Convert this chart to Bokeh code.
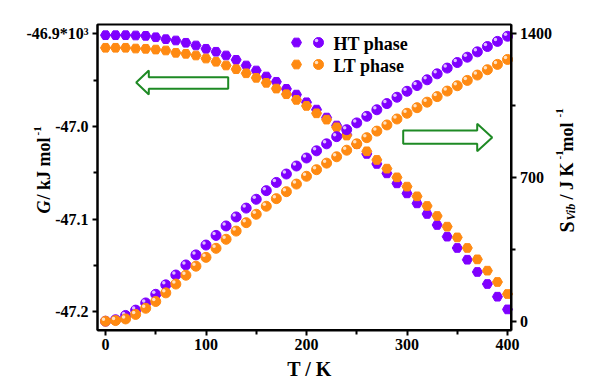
import math
from bokeh.plotting import figure
from bokeh.models import Range1d, LinearAxis, FixedTicker, Label, BoxAnnotation
from bokeh.embed import file_html
from bokeh.resources import INLINE

# ---------------- data ----------------
T = list(range(0, 401, 10))
G_HT = [-46.9015, -46.9015, -46.9015, -46.9018, -46.9022, -46.9037, -46.9058, -46.9072, -46.9097, -46.9126,
        -46.9162, -46.9194, -46.9234, -46.9281, -46.9342, -46.9396, -46.9461, -46.9518, -46.9594, -46.9656,
        -46.9739, -46.9818, -46.9904, -46.9990, -47.0088, -47.0190, -47.0296, -47.0404, -47.0506, -47.0614,
        -47.0722, -47.0830, -47.0944, -47.1063, -47.1189, -47.1311, -47.1438, -47.1570, -47.1700, -47.1837,
        -47.1974]
G_LT = [-46.9151, -46.9151, -46.9151, -46.9159, -46.9162, -46.9170, -46.9180, -46.9205, -46.9216, -46.9234,
        -46.9267, -46.9302, -46.9342, -46.9382, -46.9426, -46.9475, -46.9529, -46.9591, -46.9652, -46.9713,
        -46.9778, -46.9858, -46.9926, -47.0009, -47.0098, -47.0188, -47.0268, -47.0361, -47.0455, -47.0549,
        -47.0649, -47.0754, -47.0858, -47.0966, -47.1081, -47.1197, -47.1311, -47.1434, -47.1556, -47.1678,
        -47.1808]
S_HT = [0, 7, 28, 54, 89, 131, 177, 225, 274, 323, 371, 418, 464, 508, 551, 594, 636, 676, 717, 756,
        795, 830, 864, 899, 933, 966, 998, 1030, 1060, 1091, 1120, 1148, 1176, 1205, 1233, 1260, 1286,
        1312, 1338, 1363, 1388]
S_LT = [0, 3, 11, 33, 63, 96, 138, 181, 224, 268, 311, 355, 399, 439, 480, 521, 560, 597, 631, 668,
        706, 738, 770, 801, 833, 864, 894, 926, 956, 985, 1013, 1040, 1067, 1094, 1121, 1147, 1173,
        1199, 1225, 1251, 1275]

x_ticks = [0, 100, 200, 300, 400]
x_minor = [50, 150, 250, 350]
g_ticks = [-47.2, -47.1, -47.0, -46.9]
g_minor = [-47.15, -47.05, -46.95]
g_labels = ["-47.2", "-47.1", "-47.0", "-46.9*10\u00b3"]
s_ticks = [0, 700, 1400]
s_minor = [350, 1050]
series_names = ["HT phase", "LT phase"]

# ---------------- geometry (canvas px <-> data) ----------------
W, H = 600, 386
PURPLE = "#7F00FF"
ORANGE = "#FF8A12"
GREEN = "#1E8A24"
FONT = "Liberation Serif"

def tx(px):   # canvas x -> T
    return (px - 105.0) / 1.005

def gy(py):   # canvas y -> G
    return -46.9 - (py - 33.3) / 926.7

def sy(py):   # canvas y -> S
    return (320.7 - py) / 0.205286

BOX_L, BOX_R, BOX_T, BOX_B = 97, 510.5, 24, 329.5

p = figure(width=W, height=H, output_backend="svg", toolbar_location=None,
           x_range=Range1d(tx(0), tx(W)), y_range=Range1d(gy(H), gy(0)),
           x_axis_location=None, y_axis_location=None,
           min_border_left=0, min_border_right=0, min_border_top=0, min_border_bottom=0)
p.extra_y_ranges = {"S": Range1d(sy(H), sy(0))}
p.xgrid.visible = False
p.ygrid.visible = False
p.outline_line_color = None
p.background_fill_color = "white"
p.border_fill_color = "white"

bottom = LinearAxis(ticker=FixedTicker(ticks=x_ticks, minor_ticks=x_minor),
                    fixed_location=gy(BOX_B), bounds=(tx(BOX_L), tx(BOX_R)))
left = LinearAxis(ticker=FixedTicker(ticks=g_ticks, minor_ticks=g_minor),
                  fixed_location=tx(BOX_L), bounds=(gy(BOX_B), gy(BOX_T)))
left.major_label_overrides = {v: s for v, s in zip(g_ticks, g_labels)}
right = LinearAxis(y_range_name="S", ticker=FixedTicker(ticks=s_ticks, minor_ticks=s_minor),
                   fixed_location=tx(BOX_R), bounds=(sy(BOX_B), sy(BOX_T)))
p.add_layout(bottom, "below")
p.add_layout(left, "left")
p.add_layout(right, "right")

for ax in [bottom, left, right]:
    ax.axis_line_width = 2
    ax.major_tick_line_width = 2
    ax.minor_tick_line_width = 2
    ax.major_tick_out = 5
    ax.major_tick_in = 0
    ax.minor_tick_out = 4
    ax.minor_tick_in = 0
    ax.major_label_text_font = FONT
    ax.major_label_text_font_style = "bold"
    ax.major_label_text_font_size = "16px"
    ax.major_label_text_color = "black"
    ax.major_label_standoff = 4

p.add_layout(BoxAnnotation(left=tx(BOX_L), right=tx(BOX_R), top=gy(BOX_T), bottom=gy(BOX_B),
                           fill_alpha=0, line_color="black", line_width=2, line_alpha=1))

# ---------------- data marks ----------------
p.scatter(T, G_HT, marker="hex", size=10, fill_color=PURPLE, line_color=PURPLE)
p.scatter(T, G_LT, marker="hex", size=10, fill_color=ORANGE, line_color=ORANGE)

dxh = -2.0 / 1.005
dyh = 2.0 / 0.205286
for S, c in [(S_HT, PURPLE), (S_LT, ORANGE)]:
    p.scatter(T, S, marker="circle", size=10, fill_color=c, line_color=c, y_range_name="S")
    p.scatter([t + dxh for t in T], [s + dyh for s in S], marker="circle", size=3.5,
              fill_color="white", fill_alpha=0.75, line_color=None, y_range_name="S")

# ---------------- arrows ----------------
la = [(135.7, 82), (148.3, 70), (148.3, 76.7), (227.7, 76.7), (227.7, 88.3), (148.3, 88.3), (148.3, 94)]
ra = [(491.7, 137), (476.7, 123.3), (476.7, 130), (402.7, 130), (402.7, 143.3), (476.7, 143.3), (476.7, 150.7)]
for arr in (la, ra):
    p.patch([tx(a) for a, b in arr], [gy(b) for a, b in arr], fill_color="white", fill_alpha=1.0,
            line_color=GREEN, line_width=2)

# ---------------- legend ----------------
for (name, c, py) in [(series_names[0], PURPLE, 42), (series_names[1], ORANGE, 64)]:
    p.scatter([tx(296)], [gy(py)], marker="hex", size=10, fill_color=c, line_color=c)
    p.scatter([tx(318)], [gy(py)], marker="circle", size=10, fill_color=c, line_color=c)
    p.scatter([tx(316)], [gy(py - 2)], marker="circle", size=3.5, fill_color="white",
              fill_alpha=0.75, line_color=None)
    p.add_layout(Label(x=tx(333), y=gy(py + 1), text=name, text_font=FONT, text_font_style="bold",
                       text_font_size="18px", text_color="black",
                       text_baseline="alphabetic", text_align="left"))

# ---------------- axis titles ----------------
def lab(text, px, py, size, style="bold", angle=0.0, align="left"):
    p.add_layout(Label(x=tx(px), y=gy(py), text=text, text_font=FONT, text_font_style=style,
                       text_font_size=size, text_color="black", angle=angle,
                       text_baseline="alphabetic", text_align=align))

lab("T / K", 309, 368, "20px", align="center")
up = math.pi / 2
lab("G", 43, 213, "18px", style="bold italic", angle=up)
lab(" / kJ mol", 43, 199, "18px", angle=up)
lab("-1", 37, 135, "11px", angle=up)

lab("S", 566, 232, "20px", angle=up)
lab("Vib", 570, 220, "12px", style="bold italic", angle=up)
lab(" / J K", 566, 199, "18px", angle=up)
lab("-1", 559, 159, "11px", angle=up)
lab(" mol", 566, 151, "18px", angle=up)
lab("-1", 559, 117, "11px", angle=up)

open("out.html", "w").write(file_html(p, INLINE))
